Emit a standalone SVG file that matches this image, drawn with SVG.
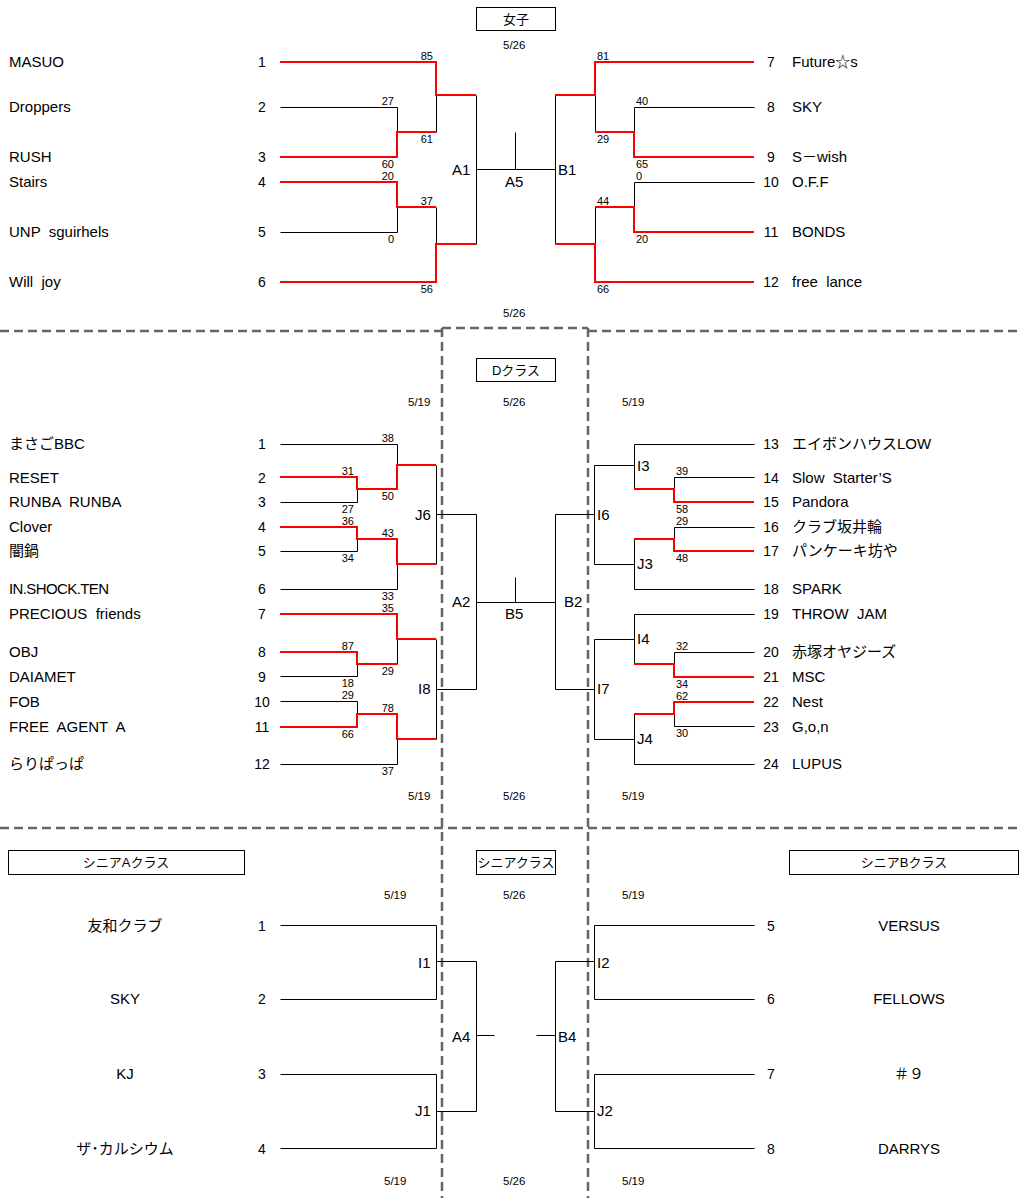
<svg xmlns="http://www.w3.org/2000/svg" width="1019" height="1198" viewBox="0 0 1019 1198" xml:space="preserve">
<style>
text{font-family:"Liberation Sans","Noto Sans CJK JP",sans-serif;fill:#000;white-space:pre}
.nm{font-size:15px}
.nmc{font-size:15px;text-anchor:middle}
.no{font-size:14px;text-anchor:middle}
.sc{font-size:11px}
.se{font-size:11px;text-anchor:end}
.lb{font-size:15px}
.dt{font-size:11.5px}
.bx{font-size:13px;text-anchor:middle}
.k{fill:none;stroke:#000;stroke-width:1}
.r{fill:none;stroke:#ff0000;stroke-width:2}
.d{fill:none;stroke:#666;stroke-width:2.5;stroke-dasharray:9 5}
.box{fill:#fff;stroke:#000;stroke-width:1}
</style>
<rect width="1019" height="1198" fill="#fff"/>

<g id="dividers">
<path class="d" d="M0,331 H442"/>
<path class="d" d="M442,328 H588"/>
<path class="d" d="M588,331 H1019"/>
<path class="d" d="M0,828 H1019"/>
<path class="d" d="M442,328 V1198"/>
<path class="d" d="M588,328 V1198"/>
</g>

<g id="titles">
<g id="title-women"><rect class="box" x="476.5" y="7.5" width="79" height="23"/><text class="bx" x="516" y="24">女子</text></g>
<g id="title-d"><rect class="box" x="476.5" y="358.5" width="79" height="23"/><text class="bx" x="516" y="375">Dクラス</text></g>
<g id="title-senior"><rect class="box" x="476.5" y="850.5" width="79" height="24"/><text class="bx" x="516" y="867">シニアクラス</text></g>
<g id="title-senior-a"><rect class="box" x="8.5" y="850.5" width="236" height="24"/><text class="bx" x="126" y="867">シニアAクラス</text></g>
<g id="title-senior-b"><rect class="box" x="789.5" y="850.5" width="229" height="24"/><text class="bx" x="904" y="867">シニアBクラス</text></g>
</g>

<g id="dates">
<text class="dt" x="503" y="49">5/26</text>
<text class="dt" x="503" y="317">5/26</text>
<text class="dt" x="408" y="406">5/19</text>
<text class="dt" x="503" y="406">5/26</text>
<text class="dt" x="622" y="406">5/19</text>
<text class="dt" x="408" y="800">5/19</text>
<text class="dt" x="503" y="800">5/26</text>
<text class="dt" x="622" y="800">5/19</text>
<text class="dt" x="384" y="899">5/19</text>
<text class="dt" x="503" y="899">5/26</text>
<text class="dt" x="622" y="899">5/19</text>
<text class="dt" x="384" y="1185">5/19</text>
<text class="dt" x="503" y="1185">5/26</text>
<text class="dt" x="622" y="1185">5/19</text>
</g>

<g id="connectors">
<g id="black-lines" transform="translate(0.5,0.5)">
<path class="k" d="M280,107 H397 V132"/>
<path class="k" d="M436,95 V132"/>
<path class="k" d="M280,232 H397 V207"/>
<path class="k" d="M436,207 V244"/>
<path class="k" d="M476,95 V244"/>
<path class="k" d="M476,169 H555"/>
<path class="k" d="M515,132 V169"/>
<path class="k" d="M555,95 V244"/>
<path class="k" d="M595,95 V132"/>
<path class="k" d="M634,132 V107 H754"/>
<path class="k" d="M754,182 H634 V207"/>
<path class="k" d="M595,207 V244"/>
<path class="k" d="M280,444 H397 V465"/>
<path class="k" d="M280,502 H357 V489"/>
<path class="k" d="M280,551 H357 V539"/>
<path class="k" d="M280,589 H397 V564"/>
<path class="k" d="M436,465 V564"/>
<path class="k" d="M436,514 H476"/>
<path class="k" d="M280,676 H357 V664"/>
<path class="k" d="M397,639 V664"/>
<path class="k" d="M280,701 H357 V714"/>
<path class="k" d="M280,764 H397 V739"/>
<path class="k" d="M436,639 V739"/>
<path class="k" d="M436,689 H476"/>
<path class="k" d="M476,514 V689"/>
<path class="k" d="M476,602 H555"/>
<path class="k" d="M515,577 V602"/>
<path class="k" d="M555,514 V689"/>
<path class="k" d="M555,514 H594"/>
<path class="k" d="M594,465 V564"/>
<path class="k" d="M594,465 H634"/>
<path class="k" d="M634,489 V444 H754"/>
<path class="k" d="M754,477 H674 V489"/>
<path class="k" d="M754,527 H674 V539"/>
<path class="k" d="M634,539 V589 H754"/>
<path class="k" d="M594,564 H634"/>
<path class="k" d="M555,689 H594"/>
<path class="k" d="M594,639 V739"/>
<path class="k" d="M594,639 H634"/>
<path class="k" d="M634,664 V614 H754"/>
<path class="k" d="M754,652 H674 V664"/>
<path class="k" d="M674,714 V726 H754"/>
<path class="k" d="M634,714 V764 H754"/>
<path class="k" d="M594,739 H634"/>
<path class="k" d="M280,925 H436 V999 H280"/>
<path class="k" d="M436,961 H476"/>
<path class="k" d="M280,1074 H436 V1148 H280"/>
<path class="k" d="M436,1111 H476"/>
<path class="k" d="M476,961 V1111"/>
<path class="k" d="M476,1035 H494"/>
<path class="k" d="M536,1035 H555"/>
<path class="k" d="M555,961 V1111"/>
<path class="k" d="M555,961 H594"/>
<path class="k" d="M754,925 H594 V999 H754"/>
<path class="k" d="M555,1111 H594"/>
<path class="k" d="M754,1074 H594 V1148 H754"/>
</g>
<g id="red-lines">
<path class="r" d="M280,157 H397 V132 H436"/>
<path class="r" d="M280,62 H436 V95 H476"/>
<path class="r" d="M280,182 H397 V207 H436"/>
<path class="r" d="M280,282 H436 V244 H476"/>
<path class="r" d="M555,95 H595 V62 H754"/>
<path class="r" d="M595,132 H634 V157 H754"/>
<path class="r" d="M595,207 H634 V232 H754"/>
<path class="r" d="M555,244 H595 V282 H754"/>
<path class="r" d="M280,477 H357 V489 H397 V465 H436"/>
<path class="r" d="M280,527 H357 V539 H397 V564 H436"/>
<path class="r" d="M280,614 H397 V639 H436"/>
<path class="r" d="M280,652 H357 V664 H397"/>
<path class="r" d="M280,727 H357 V714 H397 V739 H436"/>
<path class="r" d="M634,489 H674 V502 H754"/>
<path class="r" d="M634,539 H674 V551 H754"/>
<path class="r" d="M634,664 H674 V677 H754"/>
<path class="r" d="M754,702 H674 V714 H634"/>
</g>
</g>

<g id="scores">
<text class="se" x="433" y="60">85</text>
<text class="se" x="394" y="105">27</text>
<text class="se" x="433" y="143">61</text>
<text class="se" x="394" y="168">60</text>
<text class="se" x="394" y="180">20</text>
<text class="se" x="433" y="205">37</text>
<text class="se" x="394" y="243">0</text>
<text class="se" x="433" y="293">56</text>
<text class="sc" x="597" y="60">81</text>
<text class="sc" x="636" y="105">40</text>
<text class="sc" x="597" y="143">29</text>
<text class="sc" x="636" y="168">65</text>
<text class="sc" x="636" y="180">0</text>
<text class="sc" x="597" y="205">44</text>
<text class="sc" x="636" y="243">20</text>
<text class="sc" x="597" y="293">66</text>

<text class="se" x="394" y="442">38</text>
<text class="se" x="354" y="475">31</text>
<text class="se" x="394" y="500">50</text>
<text class="se" x="354" y="513">27</text>
<text class="se" x="354" y="525">36</text>
<text class="se" x="394" y="537">43</text>
<text class="se" x="354" y="562">34</text>
<text class="se" x="394" y="600">33</text>
<text class="se" x="394" y="612">35</text>
<text class="se" x="354" y="650">87</text>
<text class="se" x="394" y="675">29</text>
<text class="se" x="354" y="687">18</text>
<text class="se" x="354" y="699">29</text>
<text class="se" x="394" y="712">78</text>
<text class="se" x="354" y="738">66</text>
<text class="se" x="394" y="775">37</text>
<text class="sc" x="676" y="475">39</text>
<text class="sc" x="676" y="513">58</text>
<text class="sc" x="676" y="525">29</text>
<text class="sc" x="676" y="562">48</text>
<text class="sc" x="676" y="650">32</text>
<text class="sc" x="676" y="688">34</text>
<text class="sc" x="676" y="700">62</text>
<text class="sc" x="676" y="737">30</text>
</g>

<g id="match-labels">
<g id="m-A1"><text class="lb" x="452" y="175">A1</text></g>
<g id="m-B1"><text class="lb" x="558" y="175">B1</text></g>
<g id="m-A5"><text class="lb" x="505" y="187">A5</text></g>
<g id="m-J6"><text class="lb" x="415" y="520">J6</text></g>
<g id="m-I8"><text class="lb" x="418" y="694">I8</text></g>
<g id="m-A2"><text class="lb" x="452" y="607">A2</text></g>
<g id="m-B2"><text class="lb" x="564" y="607">B2</text></g>
<g id="m-B5"><text class="lb" x="505" y="619">B5</text></g>
<g id="m-I6"><text class="lb" x="597" y="520">I6</text></g>
<g id="m-I3"><text class="lb" x="637" y="471">I3</text></g>
<g id="m-J3"><text class="lb" x="637" y="569">J3</text></g>
<g id="m-I4"><text class="lb" x="637" y="644">I4</text></g>
<g id="m-I7"><text class="lb" x="597" y="694">I7</text></g>
<g id="m-J4"><text class="lb" x="637" y="744">J4</text></g>
<g id="m-I1"><text class="lb" x="418" y="968">I1</text></g>
<g id="m-J1"><text class="lb" x="415" y="1116">J1</text></g>
<g id="m-A4"><text class="lb" x="452" y="1042">A4</text></g>
<g id="m-B4"><text class="lb" x="558" y="1042">B4</text></g>
<g id="m-I2"><text class="lb" x="597" y="968">I2</text></g>
<g id="m-J2"><text class="lb" x="597" y="1116">J2</text></g>
</g>

<g id="teams-women">
<g id="w1"><text class="nm" x="9" y="67">MASUO</text><text class="no" x="262" y="67">1</text></g>
<g id="w2"><text class="nm" x="9" y="112">Droppers</text><text class="no" x="262" y="112">2</text></g>
<g id="w3"><text class="nm" x="9" y="162">RUSH</text><text class="no" x="262" y="162">3</text></g>
<g id="w4"><text class="nm" x="9" y="187">Stairs</text><text class="no" x="262" y="187">4</text></g>
<g id="w5"><text class="nm" x="9" y="237">UNP  sguirhels</text><text class="no" x="262" y="237">5</text></g>
<g id="w6"><text class="nm" x="9" y="287">Will  joy</text><text class="no" x="262" y="287">6</text></g>
<g id="w7"><text class="no" x="771" y="67">7</text><text class="nm" x="792" y="67">Future☆s</text></g>
<g id="w8"><text class="no" x="771" y="112">8</text><text class="nm" x="792" y="112">SKY</text></g>
<g id="w9"><text class="no" x="771" y="162">9</text><text class="nm" x="792" y="162">S－wish</text></g>
<g id="w10"><text class="no" x="771" y="187">10</text><text class="nm" x="792" y="187">O.F.F</text></g>
<g id="w11"><text class="no" x="771" y="237">11</text><text class="nm" x="792" y="237">BONDS</text></g>
<g id="w12"><text class="no" x="771" y="287">12</text><text class="nm" x="792" y="287">free  lance</text></g>
</g>

<g id="teams-d">
<g id="d1"><text class="nm" x="9" y="449">まさごBBC</text><text class="no" x="262" y="449">1</text></g>
<g id="d2"><text class="nm" x="9" y="483">RESET</text><text class="no" x="262" y="483">2</text></g>
<g id="d3"><text class="nm" x="9" y="507">RUNBA  RUNBA</text><text class="no" x="262" y="507">3</text></g>
<g id="d4"><text class="nm" x="9" y="532">Clover</text><text class="no" x="262" y="532">4</text></g>
<g id="d5"><text class="nm" x="9" y="556">闇鍋</text><text class="no" x="262" y="556">5</text></g>
<g id="d6"><text class="nm" x="9" y="594" style="letter-spacing:-0.6px">IN.SHOCK.TEN</text><text class="no" x="262" y="594">6</text></g>
<g id="d7"><text class="nm" x="9" y="619">PRECIOUS  friends</text><text class="no" x="262" y="619">7</text></g>
<g id="d8"><text class="nm" x="9" y="657">OBJ</text><text class="no" x="262" y="657">8</text></g>
<g id="d9"><text class="nm" x="9" y="682">DAIAMET</text><text class="no" x="262" y="682">9</text></g>
<g id="d10"><text class="nm" x="9" y="707">FOB</text><text class="no" x="262" y="707">10</text></g>
<g id="d11"><text class="nm" x="9" y="732">FREE  AGENT  A</text><text class="no" x="262" y="732">11</text></g>
<g id="d12"><text class="nm" x="9" y="769">らりぱっぱ</text><text class="no" x="262" y="769">12</text></g>
<g id="d13"><text class="no" x="771" y="449">13</text><text class="nm" x="792" y="449">エイボンハウスLOW</text></g>
<g id="d14"><text class="no" x="771" y="483">14</text><text class="nm" x="792" y="483">Slow  Starter’S</text></g>
<g id="d15"><text class="no" x="771" y="507">15</text><text class="nm" x="792" y="507">Pandora</text></g>
<g id="d16"><text class="no" x="771" y="532">16</text><text class="nm" x="792" y="532">クラブ坂井輪</text></g>
<g id="d17"><text class="no" x="771" y="556">17</text><text class="nm" x="792" y="556">パンケーキ坊や</text></g>
<g id="d18"><text class="no" x="771" y="594">18</text><text class="nm" x="792" y="594">SPARK</text></g>
<g id="d19"><text class="no" x="771" y="619">19</text><text class="nm" x="792" y="619">THROW  JAM</text></g>
<g id="d20"><text class="no" x="771" y="657">20</text><text class="nm" x="792" y="657">赤塚オヤジーズ</text></g>
<g id="d21"><text class="no" x="771" y="682">21</text><text class="nm" x="792" y="682">MSC</text></g>
<g id="d22"><text class="no" x="771" y="707">22</text><text class="nm" x="792" y="707">Nest</text></g>
<g id="d23"><text class="no" x="771" y="732">23</text><text class="nm" x="792" y="732">G,o,n</text></g>
<g id="d24"><text class="no" x="771" y="769">24</text><text class="nm" x="792" y="769">LUPUS</text></g>
</g>

<g id="teams-senior">
<g id="s1"><text class="nmc" x="125" y="931">友和クラブ</text><text class="no" x="262" y="931">1</text></g>
<g id="s2"><text class="nmc" x="125" y="1004">SKY</text><text class="no" x="262" y="1004">2</text></g>
<g id="s3"><text class="nmc" x="125" y="1079">KJ</text><text class="no" x="262" y="1079">3</text></g>
<g id="s4"><text class="nmc" x="125" y="1154">ザ･カルシウム</text><text class="no" x="262" y="1154">4</text></g>
<g id="s5"><text class="no" x="771" y="931">5</text><text class="nmc" x="909" y="931">VERSUS</text></g>
<g id="s6"><text class="no" x="771" y="1004">6</text><text class="nmc" x="909" y="1004">FELLOWS</text></g>
<g id="s7"><text class="no" x="771" y="1079">7</text><text class="nmc" x="909" y="1079">＃９</text></g>
<g id="s8"><text class="no" x="771" y="1154">8</text><text class="nmc" x="909" y="1154">DARRYS</text></g>
</g>
</svg>
